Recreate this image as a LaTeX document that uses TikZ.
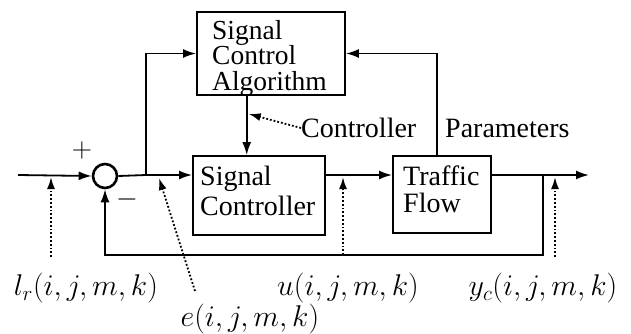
\RequirePackage{fix-cm}
\documentclass[tikz,border=0pt]{standalone}
\usepackage[no-math]{fontspec}
\setmainfont{Liberation Serif}
\usetikzlibrary{arrows.meta,calc}
\begin{document}
\begin{tikzpicture}[x=1pt,y=-1pt,
  every node/.style={font=\fontsize{28}{25}\selectfont},
  blk/.style={draw,line width=1.8pt,inner sep=0pt},
  txt/.style={inner sep=0pt,anchor=base west},
  ln/.style={line width=1.8pt},
  arr/.style={ln,-{Latex[length=13pt,width=9pt]}},
  dot/.style={line width=1.8pt,dotted,-{Latex[length=12pt,width=8pt]}},
  lbl/.style={inner sep=0pt,font=\fontsize{30}{30}\selectfont}]
\useasboundingbox (0,0) rectangle (631,333);
% blocks
\node[blk,minimum width=148pt,minimum height=83pt] (sca) at (271,53.5) {};
\node[blk,minimum width=132pt,minimum height=79pt] (sc) at (259,195.5) {};
\node[blk,minimum width=98pt,minimum height=77pt] (tf) at (442,194.5) {};
\node[txt,font=\fontsize{27.5}{25}\selectfont] (scat) at (212,39)
  {\parbox[t]{128pt}{\baselineskip=25.5pt Signal\\Control\\Algorithm}};
\node[txt] (sct) at (200,185)
  {\parbox[t]{120pt}{\baselineskip=30pt Signal\\Controller}};
\node[txt] (tft) at (403,185)
  {\parbox[t]{85pt}{\baselineskip=27pt Traffic\\Flow}};
\node[draw,circle,line width=2.6pt,minimum size=24pt,inner sep=0pt] (sum) at (105,176) {};
% coordinates
\coordinate (in) at (18,175);
\coordinate (j1) at (146,175);
\coordinate (j2) at (543,175);
\coordinate (out) at (589,175);
\coordinate (fb) at (543,255);
\coordinate (ca) at ($(sca.south west)!0.338!(sca.south east)$);
\coordinate (pa) at ($(tf.north west)!0.449!(tf.north east)$);
% main path
\draw[arr] (in) -- (sum.west);
\draw[ln] (sum.east) -- (j1);
\draw[arr] (j1) -- (j1 -| sc.west);
\draw[arr] (j1) |- (sca.west);
\draw[arr] (j1 -| sc.east) -- (j1 -| tf.west);
\draw[arr] (j1 -| tf.east) -- (out);
\draw[arr] (ca) -- (ca |- sc.north);
\draw[arr] (pa) |- (sca.east);
\draw[arr] (j2) -- (fb) -| (sum.south);
% signs
\node[inner sep=0pt] (plus) at (82,150) {$+$};
\node[inner sep=0pt] (minus) at (127,199) {$-$};
% texts
\node[inner sep=0pt,anchor=west] (ctl) at (301,128) {Controller};
\node[inner sep=0pt,anchor=west] (par) at (445,128) {Parameters};
\coordinate (ctip) at ($(ca)+(2,18)$);
\draw[dot] (ctl.west) -- (ctip);
% signal labels
\node[lbl] (lr) at (86,288) {$l_r(i, j,m,k)$};
\node[lbl] (e) at (250,319) {$e(i, j,m,k)$};
\node[lbl] (u) at (348,288) {$u(i, j,m,k)$};
\node[lbl] (yc) at (543,288) {$y_c(i, j,m,k)$};
\coordinate (lrs) at (51,257);
\coordinate (lrt) at (51,177);
\coordinate (es) at (195,291);
\coordinate (et) at (159,178);
\coordinate (us) at (343,255);
\coordinate (ut) at (343,177);
\coordinate (ys) at (555,257);
\coordinate (yt) at (555,177);
\draw[dot] (lrs) -- (lrt);
\draw[dot] (es) -- (et);
\draw[dot] (us) -- (ut);
\draw[dot] (ys) -- (yt);
\end{tikzpicture}
\end{document}
